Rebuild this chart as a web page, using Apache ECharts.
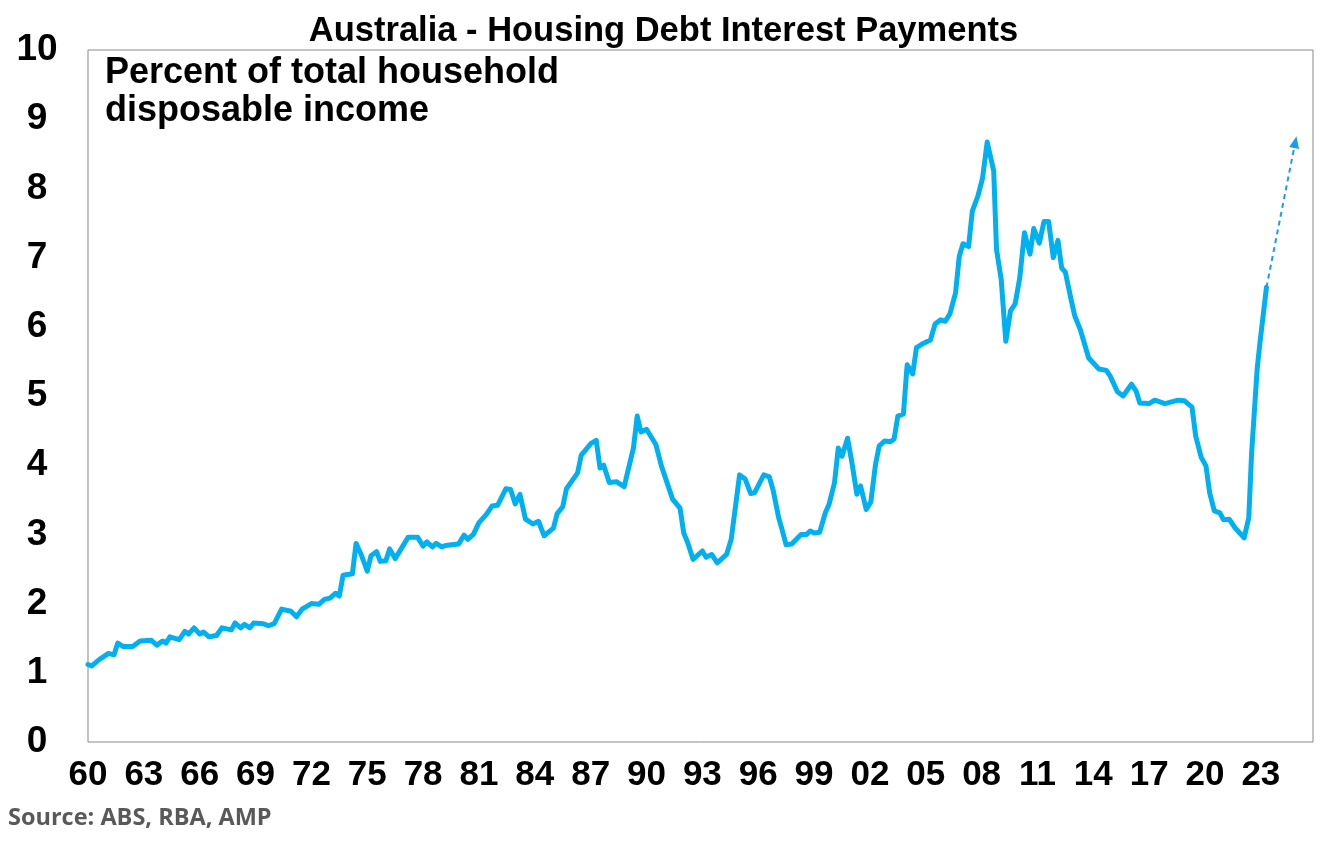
<!DOCTYPE html>
<html>
<head>
<meta charset="utf-8">
<title>Australia - Housing Debt Interest Payments</title>
<script src="https://cdn.jsdelivr.net/npm/echarts@6/dist/echarts.min.js"></script>
<style>
  html, body { margin: 0; padding: 0; background: #fff; }
  #chart { width: 1327px; height: 845px; }
</style>
</head>
<body>
<div id="chart"></div>
<script>
// decimal year of each turning point
const dates = [
  1960.0, 1960.2, 1960.6, 1961.1, 1961.4, 1961.6, 1961.9, 1962.4, 1962.8, 1963.4,
  1963.7, 1964.0, 1964.2, 1964.4, 1964.9, 1965.2, 1965.4, 1965.7, 1966.0, 1966.2,
  1966.5, 1966.9, 1967.2, 1967.7, 1967.9, 1968.2, 1968.4, 1968.7, 1968.9, 1969.4,
  1969.7, 1970.0, 1970.4, 1970.9, 1971.2, 1971.5, 1972.0, 1972.4, 1972.7, 1973.0,
  1973.3, 1973.5, 1973.7, 1974.2, 1974.4, 1974.7, 1975.0, 1975.2, 1975.5, 1975.7,
  1976.0, 1976.2, 1976.5, 1977.2, 1977.7, 1978.0, 1978.2, 1978.5, 1978.7, 1979.0,
  1979.2, 1979.9, 1980.2, 1980.4, 1980.7, 1981.0, 1981.4, 1981.7, 1982.0, 1982.45,
  1982.7, 1982.95, 1983.2, 1983.5, 1983.9, 1984.2, 1984.5, 1985.0, 1985.2, 1985.5,
  1985.7, 1986.3, 1986.5, 1986.7, 1987.0, 1987.3, 1987.5, 1987.7, 1988.0, 1988.4,
  1988.8, 1989.3, 1989.5, 1989.7, 1990.0, 1990.5, 1990.8, 1991.4, 1991.8, 1992.0,
  1992.2, 1992.5, 1993.0, 1993.2, 1993.5, 1993.8, 1994.3, 1994.55, 1995.0, 1995.3,
  1995.6, 1995.8, 1996.3, 1996.6, 1996.8, 1997.1, 1997.3, 1997.5, 1997.8, 1998.3,
  1998.6, 1998.8, 1999.0, 1999.3, 1999.6, 1999.8, 2000.1, 2000.3, 2000.5, 2000.8,
  2001.05, 2001.3, 2001.5, 2001.8, 2002.05, 2002.3, 2002.5, 2002.8, 2003.1, 2003.3,
  2003.5, 2003.8, 2004.0, 2004.3, 2004.5, 2004.8, 2005.25, 2005.5, 2005.8, 2006.05,
  2006.3, 2006.6, 2006.8, 2007.0, 2007.3, 2007.5, 2007.8, 2008.05, 2008.3, 2008.65,
  2008.8, 2009.05, 2009.3, 2009.55, 2009.8, 2010.05, 2010.3, 2010.6, 2010.8, 2011.1,
  2011.35, 2011.6, 2011.85, 2012.1, 2012.3, 2012.5, 2012.8, 2013.0, 2013.3, 2013.75,
  2014.3, 2014.7, 2014.9, 2015.3, 2015.6, 2016.05, 2016.3, 2016.5, 2017.0, 2017.3,
  2017.85, 2018.55, 2018.9, 2019.3, 2019.5, 2019.8, 2020.05, 2020.25, 2020.5, 2020.8,
  2021.0, 2021.3, 2021.6, 2022.1, 2022.35, 2022.5, 2022.8, 2022.95, 2023.3
]
// interest payments, % of household disposable income
const values = [
  1.12, 1.10, 1.19, 1.28, 1.26, 1.43, 1.38, 1.38, 1.46, 1.47,
  1.40, 1.46, 1.43, 1.52, 1.48, 1.60, 1.56, 1.65, 1.56, 1.59,
  1.52, 1.54, 1.65, 1.62, 1.72, 1.65, 1.70, 1.65, 1.72, 1.71,
  1.68, 1.71, 1.92, 1.89, 1.81, 1.92, 2.00, 1.99, 2.06, 2.08,
  2.15, 2.11, 2.41, 2.43, 2.87, 2.69, 2.47, 2.69, 2.75, 2.61,
  2.62, 2.79, 2.65, 2.96, 2.96, 2.83, 2.89, 2.82, 2.87, 2.82,
  2.84, 2.86, 2.99, 2.93, 3.00, 3.17, 3.29, 3.41, 3.42, 3.66,
  3.65, 3.44, 3.58, 3.22, 3.15, 3.19, 2.98, 3.09, 3.30, 3.40,
  3.66, 3.89, 4.15, 4.21, 4.31, 4.36, 3.96, 4.00, 3.75, 3.76,
  3.69, 4.25, 4.71, 4.48, 4.52, 4.30, 3.99, 3.51, 3.38, 3.02,
  2.89, 2.64, 2.76, 2.67, 2.71, 2.59, 2.71, 2.93, 3.86, 3.80,
  3.59, 3.60, 3.86, 3.83, 3.64, 3.24, 3.05, 2.85, 2.86, 3.00,
  3.00, 3.05, 3.02, 3.03, 3.31, 3.43, 3.75, 4.25, 4.13, 4.39,
  4.01, 3.58, 3.70, 3.36, 3.47, 4.01, 4.28, 4.35, 4.34, 4.38,
  4.71, 4.74, 5.45, 5.32, 5.70, 5.75, 5.81, 6.04, 6.10, 6.08,
  6.19, 6.49, 7.02, 7.20, 7.16, 7.67, 7.89, 8.15, 8.67, 8.25,
  7.12, 6.69, 5.79, 6.23, 6.33, 6.71, 7.36, 7.05, 7.42, 7.21,
  7.52, 7.52, 7.00, 7.25, 6.85, 6.79, 6.40, 6.16, 5.96, 5.55,
  5.39, 5.37, 5.29, 5.06, 5.00, 5.17, 5.07, 4.90, 4.89, 4.94,
  4.89, 4.94, 4.93, 4.84, 4.42, 4.11, 3.99, 3.60, 3.34, 3.31,
  3.21, 3.22, 3.10, 2.95, 3.24, 4.16, 5.39, 5.77, 6.57
]
// dashed projection arrow: [year, value]
const arrowFrom = [2023.3, 6.57]
const arrowTo = [2024.85, 8.67]

const yTicks = [0, 1, 2, 3, 4, 5, 6, 7, 8, 9, 10]
const xStart = 1960
const xEnd = 2025.8
const xStep = 3

const labelFont = 'Liberation Sans, Arial, sans-serif'

const chart = echarts.init(document.getElementById('chart'), null, { renderer: 'canvas' })

chart.setOption({
  backgroundColor: '#fff',
  animation: false,
  title: {
    text: 'Australia - Housing Debt Interest Payments',
    left: 'center',
    top: 9,
    textStyle: {
      fontFamily: labelFont,
      fontWeight: 'bold',
      fontSize: 34.5,
      color: '#000'
    }
  },
  graphic: [
    {
      type: 'text',
      left: 105,
      top: 54,
      style: {
        text: 'Percent of total household\ndisposable income',
        font: 'bold 36px ' + labelFont,
        lineHeight: 38,
        fill: '#000'
      }
    },
    {
      type: 'text',
      left: 8,
      top: 806,
      style: {
        text: 'Source: ABS, RBA, AMP',
        font: 'bold 23.5px "Open Sans", sans-serif',
        fill: '#595959'
      }
    }
  ],
  grid: {
    left: 88,
    right: 14,
    top: 50,
    bottom: 103,
    show: true,
    borderColor: '#888',
    borderWidth: 1
  },
  xAxis: {
    type: 'value',
    min: xStart,
    max: xEnd,
    interval: xStep,
    axisLine: { show: false },
    axisTick: { show: false },
    splitLine: { show: false },
    axisLabel: {
      showMaxLabel: false,
      margin: 16,
      fontFamily: labelFont,
      fontWeight: 'bold',
      fontSize: 35,
      color: '#000',
      formatter: (v) => {
        if ((v - xStart) % xStep !== 0) return ''
        return String(v % 100).padStart(2, '0')
      }
    }
  },
  yAxis: {
    type: 'value',
    min: yTicks[0],
    max: yTicks[yTicks.length - 1],
    interval: 1,
    axisLine: { show: false },
    axisTick: { show: false },
    splitLine: { show: false },
    axisLabel: {
      align: 'center',
      margin: 51,
      fontFamily: labelFont,
      fontWeight: 'bold',
      fontSize: 37,
      color: '#000'
    }
  },
  series: [
    {
      type: 'line',
      data: dates.map((d, i) => [d, values[i]]),
      showSymbol: false,
      lineStyle: {
        color: '#00B0F0',
        width: 5,
        join: 'round',
        cap: 'round'
      },
      markLine: {
        silent: true,
        symbol: ['none', 'triangle'],
        symbolSize: [10, 12],
        label: { show: false },
        lineStyle: {
          color: '#1A9CF0',
          width: 2,
          type: [5, 4]
        },
        data: [[
          { coord: arrowFrom },
          { coord: arrowTo }
        ]]
      }
    }
  ]
})
</script>
</body>
</html>
